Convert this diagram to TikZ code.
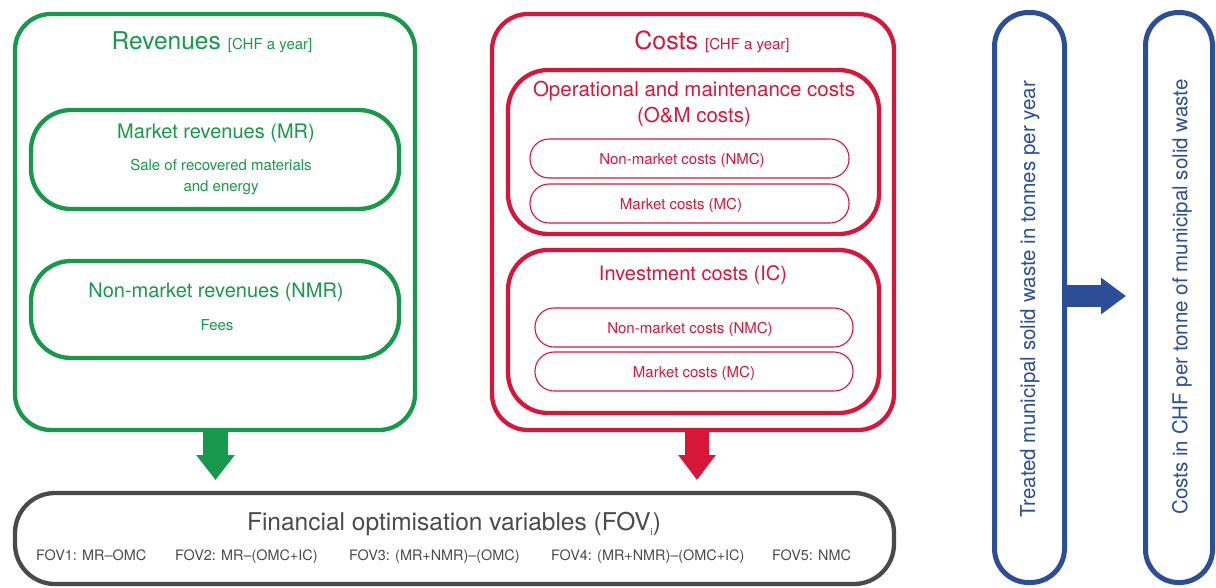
\documentclass[tikz,border=0pt]{standalone}
\usepackage{fontspec}
\setmainfont{TeX Gyre Heros}
\usetikzlibrary{arrows.meta}
\definecolor{cgreen}{HTML}{17984A}
\definecolor{cred}{HTML}{D7173A}
\definecolor{cblue}{HTML}{2B4E96}
\definecolor{cgray}{HTML}{4A4A4A}
\newcommand{\myfs}[1]{\fontsize{#1}{#1}\selectfont}
\begin{document}
\begin{tikzpicture}[x=1pt,y=-1pt,
  box/.style={draw, line width=4.3pt, inner sep=0pt, rounded corners=#1},
  pill/.style={draw, line width=1.1pt, inner sep=0pt, rounded corners=19pt, minimum height=39pt},
  txt/.style={inner sep=0pt, anchor=base, align=center}
]
\useasboundingbox (0,0) rectangle (1216,587);

% Revenues
\node[box=36pt, draw=cgreen, minimum width=400pt, minimum height=416pt] (rev) at (215,222) {};
\node[txt, text=cgreen] (revt) at (212,49) {{\myfs{24.5}Revenues}\hspace{7pt}{\myfs{15}[CHF a year]}};
\node[box=40pt, draw=cgreen, minimum width=368pt, minimum height=99pt] (mr) at (215,159.5) {};
\node[txt, text=cgreen] (mrt) at (216,138) {\myfs{20}Market revenues (MR)};
\node[txt, text=cgreen] (mrd1) at (221,170) {\myfs{15}Sale of recovered materials};
\node[txt, text=cgreen] (mrd2) at (221,191) {\myfs{15}and energy};
\node[box=40pt, draw=cgreen, minimum width=368pt, minimum height=97pt] (nmr) at (215,309.5) {};
\node[txt, text=cgreen] (nmrt) at (216,297) {\myfs{20}Non-market revenues (NMR)};
\node[txt, text=cgreen] (nmrd) at (217,330) {\myfs{15}Fees};

% Costs
\node[box=36pt, draw=cred, minimum width=402pt, minimum height=416pt] (cost) at (693,222) {};
\node[txt, text=cred] (costt) at (712,49) {{\myfs{25}Costs}\hspace{7pt}{\myfs{15}[CHF a year]}};
\node[box=40pt, draw=cred, minimum width=371pt, minimum height=164pt] (om) at (693.5,152) {};
\node[txt, text=cred] (omt1) at (694,96) {\myfs{20.5}Operational and maintenance costs};
\node[txt, text=cred] (omt2) at (694,122) {\myfs{20.5}(O\&M costs)};
\node[pill, draw=cred, minimum width=319pt] (nmc1) at (689.5,158.5) {};
\node[txt, text=cred] (nmc1t) at (682,164) {\myfs{15}Non-market costs (NMC)};
\node[pill, draw=cred, minimum width=319pt] (mc1) at (689.5,203.5) {};
\node[txt, text=cred] (mc1t) at (681,209) {\myfs{15}Market costs (MC)};
\node[box=40pt, draw=cred, minimum width=371pt, minimum height=163pt] (ic) at (693.5,331.5) {};
\node[txt, text=cred] (ict) at (693,280) {\myfs{20}Investment costs (IC)};
\node[pill, draw=cred, minimum width=318pt] (nmc2) at (694,327.5) {};
\node[txt, text=cred] (nmc2t) at (690,333) {\myfs{15}Non-market costs (NMC)};
\node[pill, draw=cred, minimum width=318pt] (mc2) at (694,371.5) {};
\node[txt, text=cred] (mc2t) at (694,377) {\myfs{15}Market costs (MC)};

% FOV
\node[box=40pt, draw=cgray, minimum width=879pt, minimum height=91pt] (fov) at (454.5,538.5) {};
\node[txt, text=cgray] (fovt) at (454,530) {\myfs{24.5}Financial optimisation variables (FOV\raisebox{-5pt}{\myfs{10}i})};
\node[txt, text=cgray, anchor=base west] (f1) at (36,560) {\myfs{14.4}FOV1: MR–OMC};
\node[txt, text=cgray, anchor=base west] (f2) at (175,560) {\myfs{14.4}FOV2: MR–(OMC+IC)};
\node[txt, text=cgray, anchor=base west] (f3) at (349,560) {\myfs{14.4}FOV3: (MR+NMR)–(OMC)};
\node[txt, text=cgray, anchor=base west] (f4) at (551,560) {\myfs{14.4}FOV4: (MR+NMR)–(OMC+IC)};
\node[txt, text=cgray, anchor=base west] (f5) at (772,560) {\myfs{14.4}FOV5: NMC};

% arrows down
\coordinate (gt) at (215.5,480);
\coordinate (rt) at (697,480);
\draw[line width=25pt, cgreen, -{Triangle[length=25pt,width=37pt]}] (rev.south -| gt) -- (gt);
\draw[line width=24pt, cred, -{Triangle[length=25pt,width=36pt]}] (cost.south -| rt) -- (rt);

% Blue boxes
\node[box=34pt, draw=cblue, line width=5pt, minimum width=70pt, minimum height=570pt] (bl) at (1029.5,297.5) {};
\node[inner sep=0pt, text=cblue, rotate=90] (blt) at (1030,299) {\myfs{20.5}Treated municipal solid waste in tonnes per year};
\node[box=33pt, draw=cblue, line width=5pt, minimum width=67pt, minimum height=570pt] (br) at (1179,297.5) {};
\node[inner sep=0pt, text=cblue, rotate=90] (brt) at (1182,297) {\myfs{20.5}Costs in CHF per tonne of municipal solid waste};
\coordinate (bt) at (1126,296);
\draw[line width=22pt, cblue, -{Triangle[length=25pt,width=35pt]}] (bl.east |- bt) -- (bt);
\end{tikzpicture}
\end{document}
